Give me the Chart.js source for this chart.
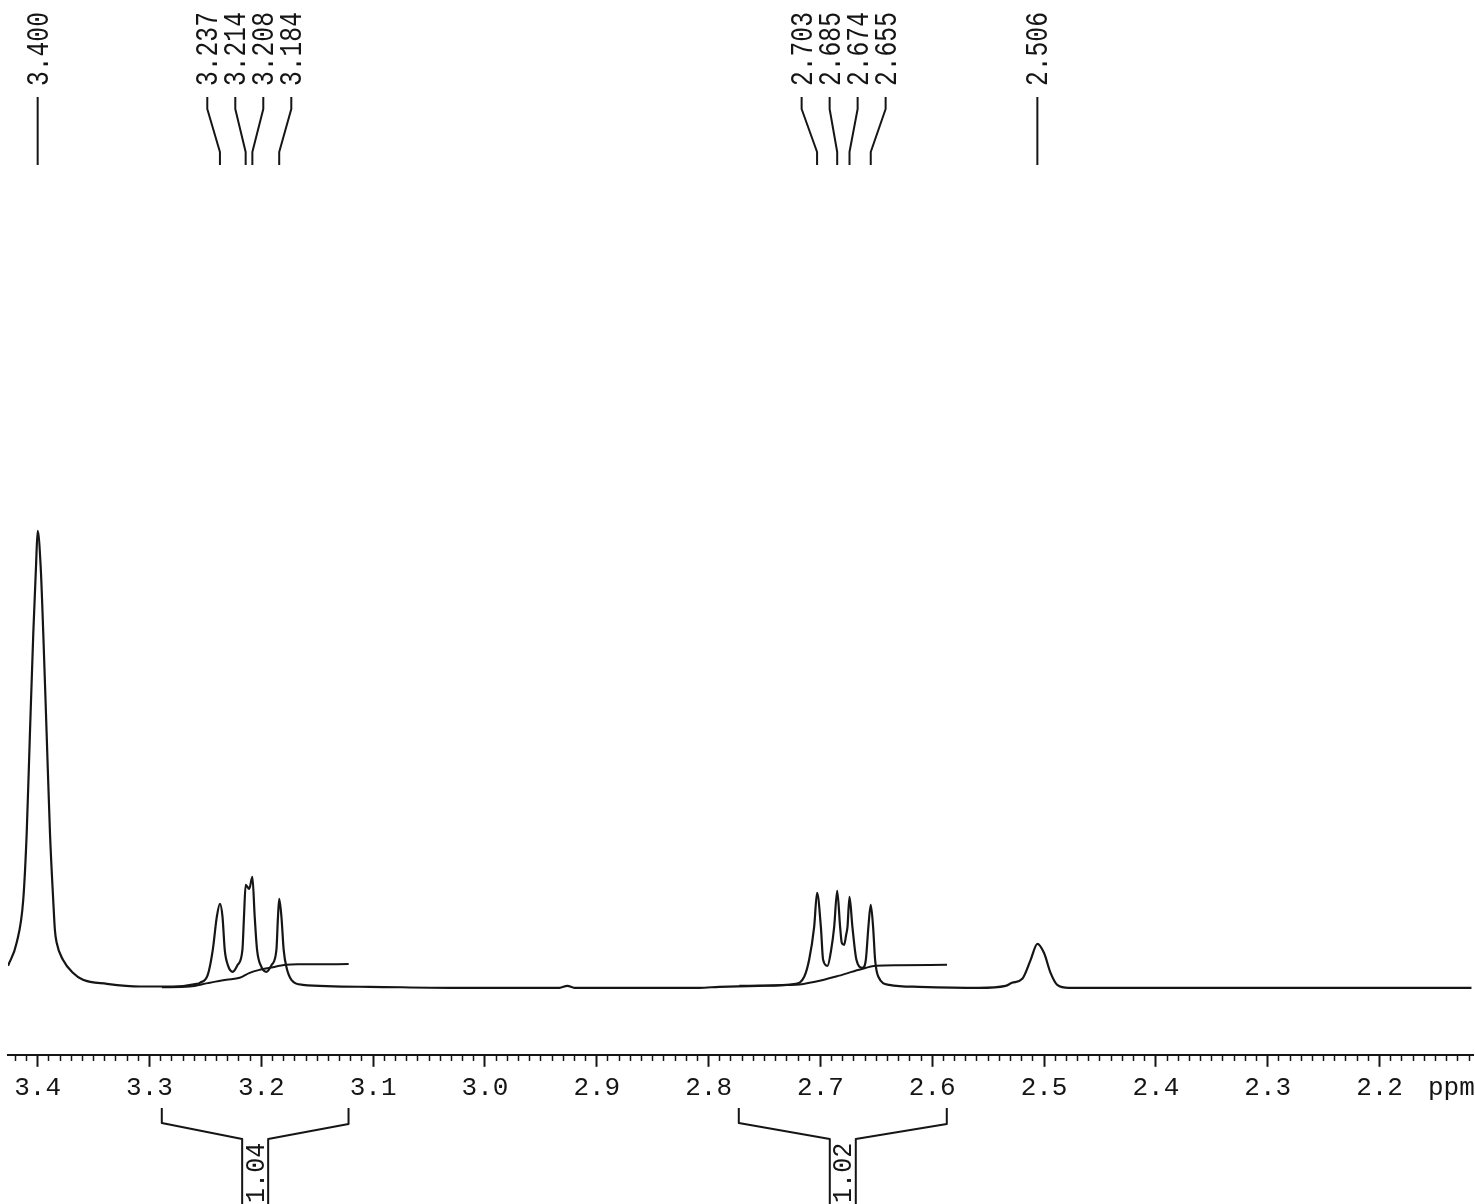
<!DOCTYPE html>
<html>
<head>
<meta charset="utf-8">
<title>1H NMR 3.43–2.12 ppm</title>
<script src="https://cdn.jsdelivr.net/npm/chart.js@4.4.1/dist/chart.umd.min.js"></script>
<style>
  html, body { margin: 0; padding: 0; background: #ffffff; }
  #wrap { width: 1475px; height: 1204px; position: relative; }
  canvas { display: block; }
</style>
</head>
<body>
<div id="wrap"><canvas id="nmr" width="1475" height="1204"></canvas></div>
<script>
// ---- spectrum trace (chemical shift in ppm, relative intensity) ----
const specPpm = [
  3.4265, 3.4188, 3.4129, 3.4098, 3.4069, 3.4039, 3.4015, 3.4000, 3.3973, 3.3950,
  3.3920, 3.3890, 3.3861, 3.3846, 3.3830, 3.3774, 3.3685, 3.3595, 3.3381, 3.3086,
  3.2791, 3.2577, 3.2550, 3.2479, 3.2434, 3.2398, 3.2370, 3.2347, 3.2327, 3.2300,
  3.2255, 3.2211, 3.2169, 3.2155, 3.2140, 3.2108, 3.2080, 3.2059, 3.2038, 3.1999,
  3.1954, 3.1907, 3.1865, 3.1851, 3.1840, 3.1820, 3.1800, 3.1776, 3.1731, 3.1630,
  3.1031, 3.0317, 2.9334, 2.9263, 2.9200, 2.8084, 2.7905, 2.7548, 2.7220, 2.7145,
  2.7101, 2.7056, 2.7030, 2.6996, 2.6976, 2.6937, 2.6904, 2.6877, 2.6850, 2.6824,
  2.6809, 2.6788, 2.6770, 2.6758, 2.6740, 2.6714, 2.6678, 2.6624, 2.6594, 2.6571,
  2.6550, 2.6529, 2.6511, 2.6482, 2.6386, 2.6118, 2.5582, 2.5344, 2.5287, 2.5195,
  2.5120, 2.5060, 2.5001, 2.4942, 2.4882, 2.4778, 2.4242, 2.3170, 2.2277, 2.1178
];
const specInt = [
  22, 45, 88, 155, 255, 355, 421, 457, 421, 355,
  255, 155, 88, 58, 45, 28, 15, 8, 4, 1.3,
  1.3, 4, 5, 13, 38, 71, 84, 71, 38, 23,
  16, 23, 38, 71, 103, 99, 111, 71, 38, 21,
  16, 23, 38, 71, 89, 71, 38, 21, 8, 3,
  1, 0, 0, 2, 0, 0, 1, 2, 4, 11,
  28, 61, 95, 61, 28, 22, 38, 61, 97, 61,
  45, 43, 53, 61, 91, 61, 28, 20, 28, 61,
  83, 61, 28, 11, 3, 1, 0, 2, 5, 9,
  28, 44, 35, 15, 3, 0, 0, 0, 0, 0
];

// ---- integral traces ----
const integ1Ppm = [3.2890, 3.2640, 3.2479, 3.2312, 3.2193, 3.2104, 3.2014, 3.1925, 3.1776, 3.1657, 3.1219];
const integ1Val = [0.5, 1.3, 4.7, 8, 10, 15, 18, 20, 23, 23.5, 23.7];
const integ2Ppm = [2.7726, 2.7217, 2.7038, 2.6860, 2.6654, 2.6502, 2.6297, 2.5868];
const integ2Val = [2, 3, 6.3, 11.3, 18, 22, 22.5, 23];

// ---- integration regions and their values ----
const integralRanges = [[3.289, 3.122], [2.773, 2.587]];
const integralLabels = ['1.04', '1.02'];

// ---- picked peaks, grouped by multiplet ----
const peakGroups = [
  [3.400],
  [3.237, 3.214, 3.208, 3.184],
  [2.703, 2.685, 2.674, 2.655],
  [2.506]
];

// ---- axis ticks ----
const tickValues = [3.4, 3.3, 3.2, 3.1, 3.0, 2.9, 2.8, 2.7, 2.6, 2.5, 2.4, 2.3, 2.2];
const tickLabels = ['3.4', '3.3', '3.2', '3.1', '3.0', '2.9', '2.8', '2.7', '2.6', '2.5', '2.4', '2.3', '2.2'];
const axisUnit = 'ppm';

const PPM_LEFT = 3.42653;
const PPM_RIGHT = 2.11601;

const INK = '#151515';
const MONO = '"Liberation Mono", "DejaVu Sans Mono", monospace';

const toXY = (xs, ys) => xs.map((x, i) => ({ x: x, y: ys[i] }));
const majorIndex = (v) => tickValues.findIndex(t => Math.abs(t - v) < 1e-6);

// vertical text reading bottom-to-top, glyphs centred on cx, starting at yStart
function verticalText(ctx, text, cx, yStart, size, squeeze) {
  const digitH = size * 0.62;
  ctx.save();
  ctx.translate(cx + digitH / 2, yStart);
  ctx.rotate(-Math.PI / 2);
  ctx.scale(squeeze, 1);
  ctx.font = size + 'px ' + MONO;
  ctx.fillStyle = INK;
  ctx.textAlign = 'left';
  ctx.textBaseline = 'alphabetic';
  ctx.fillText(text, 0, 0);
  ctx.restore();
}

const annotations = {
  id: 'nmrAnnotations',
  afterDraw(chart) {
    const ctx = chart.ctx;
    const xs = chart.scales.x;
    ctx.save();
    ctx.strokeStyle = INK;
    ctx.lineWidth = 2;
    ctx.lineJoin = 'round';

    // peak-pick labels with connector lines
    const spacing = 28;
    peakGroups.forEach(group => {
      const px = group.map(p => xs.getPixelForValue(p));
      const mean = px.reduce((a, b) => a + b, 0) / px.length;
      group.forEach((p, i) => {
        const tx = mean + (i - (group.length - 1) / 2) * spacing;
        ctx.beginPath();
        ctx.moveTo(tx, 97);
        ctx.lineTo(tx, 109);
        ctx.lineTo(px[i], 152);
        ctx.lineTo(px[i], 165);
        ctx.stroke();
        verticalText(ctx, p.toFixed(3), tx, 86, 32, 0.77);
      });
    });

    // integration brackets
    integralRanges.forEach((r, k) => {
      const xl = xs.getPixelForValue(r[0]);
      const xr = xs.getPixelForValue(r[1]);
      const m = (xl + xr) / 2;
      ctx.beginPath();
      ctx.moveTo(xl, 1108);
      ctx.lineTo(xl, 1123);
      ctx.lineTo(m - 13, 1139);
      ctx.lineTo(m - 13, 1204);
      ctx.moveTo(xr, 1108);
      ctx.lineTo(xr, 1124);
      ctx.lineTo(m + 13, 1139);
      ctx.lineTo(m + 13, 1204);
      ctx.stroke();
      verticalText(ctx, integralLabels[k], m, 1203, 27, 0.93);
    });

    // unit label at the end of the axis
    ctx.font = '26px ' + MONO;
    ctx.fillStyle = INK;
    ctx.textAlign = 'left';
    ctx.textBaseline = 'middle';
    ctx.fillText(axisUnit, 1428, 1088);
    ctx.restore();
  }
};

new Chart(document.getElementById('nmr'), {
  type: 'line',
  data: {
    datasets: [
      {
        data: toXY(specPpm, specInt),
        borderColor: INK,
        borderWidth: 2.2,
        pointRadius: 0,
        cubicInterpolationMode: 'monotone',
        fill: false
      },
      {
        data: toXY(integ1Ppm, integ1Val),
        borderColor: INK,
        borderWidth: 2,
        pointRadius: 0,
        cubicInterpolationMode: 'monotone',
        fill: false
      },
      {
        data: toXY(integ2Ppm, integ2Val),
        borderColor: INK,
        borderWidth: 2,
        pointRadius: 0,
        cubicInterpolationMode: 'monotone',
        fill: false
      }
    ]
  },
  options: {
    responsive: false,
    animation: false,
    devicePixelRatio: 1,
    layout: { padding: { left: 8, right: 0, top: 0, bottom: 94 } },
    plugins: {
      legend: { display: false },
      tooltip: { enabled: false },
      title: { display: false }
    },
    scales: {
      x: {
        type: 'linear',
        reverse: true,
        min: PPM_RIGHT,
        max: PPM_LEFT,
        border: { display: true, color: INK, width: 2 },
        grid: {
          drawOnChartArea: false,
          drawTicks: true,
          tickLength: 12,
          tickColor: INK,
          tickWidth: (c) => (c.tick && majorIndex(c.tick.value) >= 0 ? 2 : 1.5),
          tickBorderDash: (c) => (c.tick && majorIndex(c.tick.value) >= 0 ? [] : [5, 40])
        },
        ticks: {
          stepSize: 0.01,
          autoSkip: false,
          includeBounds: false,
          maxRotation: 0,
          minRotation: 0,
          padding: 6,
          color: INK,
          font: { family: MONO, size: 26 },
          callback: (v) => {
            const i = majorIndex(v);
            return i >= 0 ? tickLabels[i] : '';
          }
        }
      },
      y: {
        display: false,
        min: -67,
        max: 988
      }
    }
  },
  plugins: [annotations]
});
</script>
</body>
</html>
